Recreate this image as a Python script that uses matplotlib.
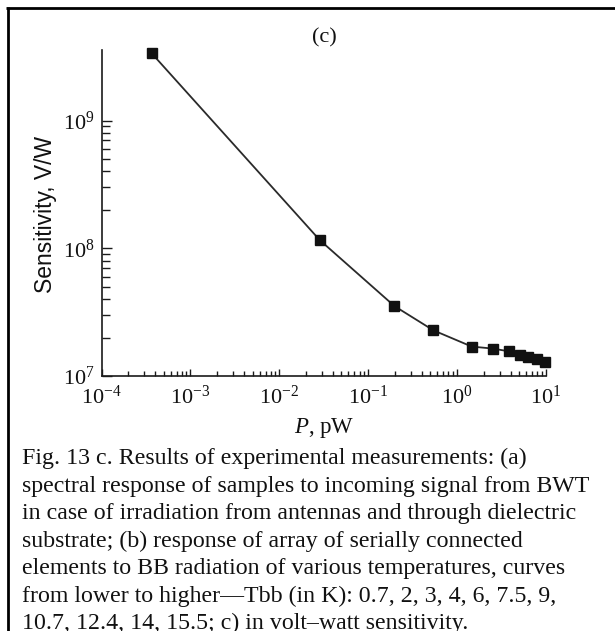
import matplotlib
matplotlib.use("Agg")
import matplotlib.pyplot as plt
from matplotlib.ticker import LogLocator, FixedLocator, NullFormatter
from matplotlib.lines import Line2D

# Data
power_pW = [3.66e-4, 0.0285, 0.197, 0.54, 1.46, 2.51, 3.84, 5.1, 6.3, 7.85, 9.8]
sensitivity = [3.37e9, 1.16e8, 3.53e7, 2.28e7, 1.70e7, 1.64e7, 1.56e7, 1.46e7, 1.40e7, 1.35e7, 1.28e7]

title_text = "(c)"
xlabel_text = "$P$, pW"
ylabel_text = "Sensitivity, V/W"
caption_lines = [
    "Fig. 13 c. Results of experimental measurements: (a)",
    "spectral response of samples to incoming signal from BWT",
    "in case of irradiation from antennas and through dielectric",
    "substrate; (b) response of array of serially connected",
    "elements to BB radiation of various temperatures, curves",
    "from lower to higher\u2014Tbb (in K): 0.7, 2, 3, 4, 6, 7.5, 9,",
    "10.7, 12.4, 14, 15.5; c) in volt\u2013watt sensitivity.",
]

plt.rcParams['font.family'] = ['Liberation Serif', 'DejaVu Serif']
plt.rcParams['mathtext.fontset'] = 'custom'
plt.rcParams['mathtext.rm'] = 'Liberation Serif'
plt.rcParams['mathtext.it'] = 'Liberation Serif:italic'
plt.rcParams['mathtext.bf'] = 'Liberation Serif:bold'

W, H = 615, 631
fig = plt.figure(figsize=(W / 100, H / 100), dpi=100)
fig.patch.set_facecolor('white')

def fx(px):
    return px / W

def fy(py):
    return 1 - py / H

ax_left, ax_right, ax_top, ax_bottom = 101.5, 546.0, 50.0, 376.0
ax = fig.add_axes([fx(ax_left), fy(ax_bottom), (ax_right - ax_left) / W, (ax_bottom - ax_top) / H])

ax.plot(power_pW, sensitivity, color='#2a2a2a', lw=1.3, marker='s', markersize=7.7,
        markerfacecolor='#111111', markeredgecolor='#111111', clip_on=False, zorder=3)

ax.set_xscale('log')
ax.set_yscale('log')
ax.set_xlim(1e-4, 1e1)
ax.set_ylim(1e7, 3.57e9)

for s in ['top', 'right']:
    ax.spines[s].set_visible(False)
for s in ['left', 'bottom']:
    ax.spines[s].set_linewidth(1.2)
    ax.spines[s].set_color('#1a1a1a')

ax.xaxis.set_major_locator(LogLocator(base=10, numticks=10))
ax.xaxis.set_minor_locator(LogLocator(base=10, subs=range(2, 10), numticks=20))
ax.xaxis.set_minor_formatter(NullFormatter())
ax.yaxis.set_major_locator(FixedLocator([1e7, 1e8, 1e9]))
yminor = [m * 10 ** e for e in (7, 8) for m in range(2, 10)]
ax.yaxis.set_minor_locator(FixedLocator(yminor))
ax.yaxis.set_minor_formatter(NullFormatter())

ax.tick_params(axis='both', which='both', direction='in', color='#1a1a1a', width=1.0,
               labelsize=16, labelcolor='#111111')
ax.tick_params(axis='x', which='major', length=5, pad=7)
ax.tick_params(axis='x', which='minor', length=3.6)
ax.tick_params(axis='y', which='major', length=7, pad=5)
ax.tick_params(axis='y', which='minor', length=5.5)

# Title and axis labels
fig.text(fx(324), fy(38), title_text, ha='center', va='center', fontsize=16, color='#111111')
fig.text(fx(46), fy(214), ylabel_text, ha='center', va='center', rotation=90,
         fontsize=16.5, family=['Liberation Sans', 'DejaVu Sans'], color='#111111')
fig.text(fx(324), fy(428), xlabel_text, ha='center', va='center', fontsize=16.5, color='#111111')

# Caption
baselines = [464, 491.7, 519.3, 546.7, 574.3, 601.7, 629]
for line, b in zip(caption_lines, baselines):
    fig.text(fx(22), fy(b), line, ha='left', va='baseline', fontsize=17.2, color='#111111')

# Frame lines (top and left)
fig.add_artist(Line2D([fx(6), 1.0], [fy(7.5), fy(7.5)], transform=fig.transFigure,
                      color='black', lw=2.0, solid_capstyle='butt'))
fig.add_artist(Line2D([fx(7.5), fx(7.5)], [fy(6.5), 0.0], transform=fig.transFigure,
                      color='black', lw=2.0, solid_capstyle='butt'))

fig.savefig('out.png', dpi=100, facecolor='white')
